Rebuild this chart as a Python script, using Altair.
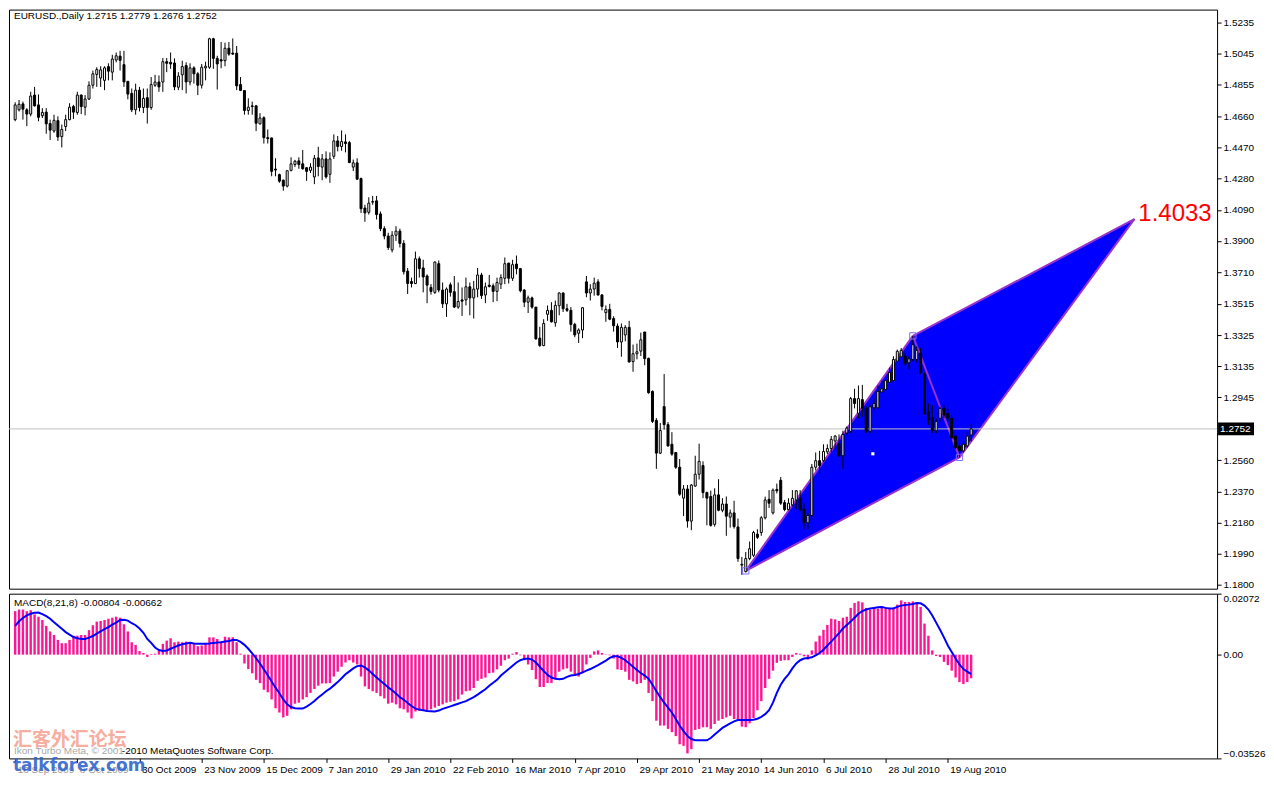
import altair as alt
import pandas as pd

# ---------------- data ----------------
symbol_title = "EURUSD.,Daily"

opens = [
 1.4641,1.4701,1.4737,1.4701,1.4675,1.4791,1.4731,1.4665,1.4687,1.4617,
 1.4571,1.4635,1.4537,1.4599,1.4641,1.4721,1.4685,1.4791,1.4717,1.4767,
 1.4851,1.4917,1.4895,1.4881,1.4965,1.4931,1.5005,1.5029,1.4977,1.4875,
 1.4801,1.4701,1.4821,1.4715,1.4775,1.4715,1.4851,1.4871,1.4871,1.4995,
 1.4991,1.4987,1.4839,1.4915,1.4971,1.4871,1.4957,1.4921,1.4851,1.4957,
 1.4961,1.5135,1.5015,1.5007,1.5001,1.5077,1.5047,1.5047,1.4855,1.4819,
 1.4697,1.4725,1.4725,1.4615,1.4653,1.4531,1.4529,1.4339,1.4305,1.4271,
 1.4235,1.4331,1.4367,1.4389,1.4371,1.4347,1.4331,1.4291,1.4407,1.4351,
 1.4401,1.4307,1.4417,1.4511,1.4477,1.4505,1.4501,1.4351,1.4377,1.4281,
 1.4101,1.4075,1.4137,1.4145,1.4065,1.3975,1.3930,1.3845,1.3935,1.3960,
 1.3885,1.3715,1.3652,1.3640,1.3791,1.3735,1.3686,1.3616,1.3586,1.3761,
 1.3600,1.3516,1.3632,1.3590,1.3496,1.3540,1.3540,1.3620,1.3552,1.3606,
 1.3692,1.3570,1.3630,1.3626,1.3592,1.3636,1.3672,1.3765,1.3672,1.3759,
 1.3731,1.3600,1.3526,1.3552,1.3496,1.3306,1.3261,1.3452,1.3476,1.3400,
 1.3504,1.3582,1.3486,1.3476,1.3390,1.3336,1.3356,1.3650,1.3582,1.3606,
 1.3650,1.3570,1.3462,1.3482,1.3426,1.3380,1.3283,1.3326,1.3372,1.3163,
 1.3211,1.3227,1.3344,1.3183,1.2981,1.2804,1.2604,1.2888,1.2778,1.2658,
 1.2608,1.2518,1.2329,1.2385,1.2189,1.2403,1.2475,1.2528,1.2363,1.2339,
 1.2169,1.2349,1.2255,1.2293,1.2213,1.2239,1.2153,1.1920,1.1880,1.1960,
 1.1980,1.2109,1.2119,1.2209,1.2322,1.2239,1.2382,1.2438,1.2302,1.2259,
 1.2288,1.2318,1.2328,1.2263,1.2179,1.2223,1.2518,1.2558,1.2558,1.2612,
 1.2632,1.2678,1.2662,1.2588,1.2727,1.2737,1.2937,1.2847,1.2931,1.2877,
 1.2737,1.2881,1.2881,1.2977,1.2993,1.3037,1.3047,1.3166,1.3192,1.3196,
 1.3156,1.3176,1.3176,1.3216,1.3087,1.2857,1.2821,1.2741,1.2817,1.2877,
 1.2847,1.2817,1.2708,1.2648,1.2618,1.2648,1.2715]

highs = [
 1.4747,1.4761,1.4751,1.4711,1.4811,1.4841,1.4795,1.4711,1.4711,1.4641,
 1.4671,1.4661,1.4611,1.4671,1.4741,1.4731,1.4811,1.4795,1.4791,1.4875,
 1.4941,1.4961,1.4967,1.4967,1.4985,1.5037,1.5051,1.5061,1.5061,1.4875,
 1.4831,1.4861,1.4841,1.4831,1.4831,1.4901,1.4915,1.4911,1.5017,1.5017,
 1.5051,1.5015,1.4931,1.5001,1.4991,1.4985,1.4967,1.4931,1.4981,1.4995,
 1.5141,1.5141,1.5031,1.5115,1.5111,1.5115,1.5137,1.5091,1.4901,1.4821,
 1.4771,1.4751,1.4731,1.4681,1.4661,1.4581,1.4531,1.4405,1.4311,1.4275,
 1.4331,1.4411,1.4395,1.4411,1.4455,1.4351,1.4375,1.4425,1.4475,1.4431,
 1.4447,1.4441,1.4551,1.4541,1.4575,1.4551,1.4511,1.4397,1.4405,1.4287,
 1.4121,1.4167,1.4175,1.4175,1.4080,1.3990,1.3950,1.3960,1.3990,1.3975,
 1.3905,1.3735,1.3676,1.3835,1.3805,1.3785,1.3696,1.3636,1.3775,1.3781,
 1.3646,1.3616,1.3646,1.3686,1.3646,1.3616,1.3676,1.3646,1.3656,1.3735,
 1.3705,1.3646,1.3692,1.3640,1.3676,1.3696,1.3799,1.3765,1.3785,1.3811,
 1.3735,1.3606,1.3566,1.3560,1.3496,1.3376,1.3422,1.3506,1.3526,1.3536,
 1.3586,1.3586,1.3516,1.3496,1.3400,1.3366,1.3496,1.3686,1.3636,1.3676,
 1.3666,1.3576,1.3506,1.3516,1.3440,1.3396,1.3396,1.3386,1.3412,1.3267,
 1.3273,1.3340,1.3344,1.3187,1.2987,1.2818,1.2788,1.3087,1.2794,1.2732,
 1.2608,1.2568,1.2409,1.2409,1.2415,1.2588,1.2662,1.2554,1.2369,1.2375,
 1.2389,1.2445,1.2329,1.2339,1.2259,1.2313,1.2205,1.1970,1.2000,1.2064,
 1.2129,1.2139,1.2219,1.2338,1.2378,1.2388,1.2418,1.2458,1.2318,1.2328,
 1.2378,1.2378,1.2378,1.2298,1.2239,1.2538,1.2608,1.2618,1.2658,1.2658,
 1.2708,1.2714,1.2718,1.2741,1.2767,1.2947,1.2997,1.3017,1.3021,1.2891,
 1.2897,1.2937,1.3017,1.3047,1.3057,1.3126,1.3196,1.3236,1.3246,1.3216,
 1.3196,1.3320,1.3256,1.3246,1.3097,1.2907,1.2897,1.2817,1.2887,1.2897,
 1.2877,1.2837,1.2718,1.2668,1.2678,1.2737,1.2779]

lows = [
 1.4631,1.4691,1.4641,1.4601,1.4661,1.4721,1.4631,1.4651,1.4555,1.4517,
 1.4561,1.4511,1.4471,1.4571,1.4637,1.4645,1.4671,1.4675,1.4667,1.4761,
 1.4831,1.4841,1.4841,1.4821,1.4881,1.4881,1.4991,1.4941,1.4841,1.4765,
 1.4687,1.4671,1.4691,1.4681,1.4617,1.4701,1.4841,1.4811,1.4811,1.4931,
 1.4951,1.4821,1.4821,1.4821,1.4801,1.4851,1.4861,1.4791,1.4831,1.4881,
 1.4951,1.4951,1.4825,1.4955,1.4967,1.5031,1.5037,1.4821,1.4815,1.4671,
 1.4671,1.4671,1.4571,1.4611,1.4495,1.4495,1.4295,1.4295,1.4255,1.4207,
 1.4227,1.4325,1.4351,1.4341,1.4335,1.4267,1.4315,1.4247,1.4295,1.4271,
 1.4281,1.4255,1.4401,1.4447,1.4451,1.4441,1.4375,1.4327,1.4275,1.4071,
 1.4017,1.4061,1.4121,1.4031,1.3960,1.3910,1.3845,1.3830,1.3900,1.3860,
 1.3695,1.3576,1.3616,1.3636,1.3676,1.3586,1.3520,1.3572,1.3576,1.3586,
 1.3490,1.3436,1.3560,1.3490,1.3486,1.3442,1.3506,1.3446,1.3426,1.3556,
 1.3546,1.3520,1.3616,1.3526,1.3532,1.3606,1.3636,1.3640,1.3656,1.3696,
 1.3586,1.3496,1.3460,1.3486,1.3296,1.3253,1.3257,1.3412,1.3402,1.3376,
 1.3446,1.3466,1.3466,1.3346,1.3312,1.3277,1.3306,1.3556,1.3536,1.3566,
 1.3566,1.3476,1.3406,1.3416,1.3346,1.3247,1.3193,1.3287,1.3157,1.3101,
 1.3177,1.3197,1.3141,1.2967,1.2788,1.2508,1.2598,1.2748,1.2644,1.2588,
 1.2508,1.2343,1.2219,1.2149,1.2133,1.2399,1.2443,1.2329,1.2163,1.2155,
 1.2155,1.2249,1.2243,1.2099,1.2149,1.2143,1.1940,1.1860,1.1876,1.1950,
 1.1970,1.2080,1.2099,1.2199,1.2269,1.2229,1.2358,1.2288,1.2249,1.2255,
 1.2279,1.2263,1.2249,1.2139,1.2139,1.2199,1.2498,1.2478,1.2548,1.2598,
 1.2608,1.2628,1.2582,1.2508,1.2718,1.2727,1.2877,1.2817,1.2827,1.2727,
 1.2727,1.2867,1.2877,1.2973,1.2987,1.3027,1.3037,1.3152,1.3186,1.3136,
 1.3116,1.3166,1.3156,1.3087,1.2837,1.2777,1.2727,1.2727,1.2797,1.2817,
 1.2797,1.2688,1.2628,1.2578,1.2608,1.2638,1.2676]

closes = [
 1.4731,1.4735,1.4705,1.4675,1.4785,1.4725,1.4655,1.4685,1.4615,1.4577,
 1.4637,1.4535,1.4581,1.4641,1.4717,1.4687,1.4791,1.4721,1.4767,1.4851,
 1.4921,1.4947,1.4945,1.4957,1.4937,1.5011,1.5031,1.5003,1.4871,1.4797,
 1.4701,1.4821,1.4715,1.4771,1.4715,1.4855,1.4871,1.4841,1.4995,1.4985,
 1.4981,1.4841,1.4907,1.4965,1.4871,1.4957,1.4921,1.4851,1.4961,1.4967,
 1.5135,1.5015,1.4981,1.4999,1.5077,1.5041,1.5041,1.4847,1.4819,1.4697,
 1.4717,1.4721,1.4619,1.4651,1.4531,1.4525,1.4325,1.4333,1.4265,1.4235,
 1.4329,1.4371,1.4387,1.4367,1.4341,1.4325,1.4351,1.4405,1.4355,1.4401,
 1.4291,1.4401,1.4511,1.4477,1.4507,1.4495,1.4379,1.4377,1.4277,1.4097,
 1.4071,1.4131,1.4141,1.4061,1.3975,1.3930,1.3860,1.3935,1.3960,1.3885,
 1.3712,1.3640,1.3640,1.3791,1.3731,1.3680,1.3630,1.3592,1.3771,1.3600,
 1.3516,1.3606,1.3586,1.3496,1.3530,1.3532,1.3620,1.3552,1.3606,1.3692,
 1.3566,1.3620,1.3622,1.3592,1.3646,1.3676,1.3761,1.3672,1.3755,1.3731,
 1.3596,1.3526,1.3552,1.3496,1.3302,1.3261,1.3396,1.3476,1.3406,1.3506,
 1.3582,1.3486,1.3476,1.3390,1.3326,1.3356,1.3492,1.3582,1.3606,1.3642,
 1.3570,1.3500,1.3482,1.3422,1.3382,1.3283,1.3372,1.3372,1.3161,1.3211,
 1.3223,1.3296,1.3181,1.2973,1.2798,1.2604,1.2742,1.2778,1.2648,1.2598,
 1.2518,1.2353,1.2385,1.2189,1.2409,1.2475,1.2554,1.2363,1.2329,1.2163,
 1.2349,1.2255,1.2293,1.2219,1.2239,1.2155,1.1960,1.1925,1.1960,1.2020,
 1.2119,1.2090,1.2209,1.2318,1.2298,1.2378,1.2374,1.2298,1.2259,1.2298,
 1.2328,1.2374,1.2259,1.2179,1.2223,1.2518,1.2558,1.2528,1.2614,1.2632,
 1.2688,1.2708,1.2588,1.2718,1.2757,1.2937,1.2907,1.2937,1.2877,1.2737,
 1.2887,1.2907,1.2981,1.2997,1.3047,1.3097,1.3176,1.3226,1.3232,1.3152,
 1.3180,1.3266,1.3232,1.3097,1.2847,1.2807,1.2741,1.2797,1.2877,1.2837,
 1.2817,1.2698,1.2638,1.2618,1.2658,1.2708,1.2752]

macd_hist = [
 0.01478,0.01533,0.01533,0.01478,0.01511,0.01367,0.01289,0.01178,0.00978,0.00789,
 0.00667,0.00500,0.00389,0.00389,0.00500,0.00644,0.00644,0.00667,0.00667,0.00833,
 0.01000,0.01122,0.01144,0.01178,0.01222,0.01256,0.01289,0.01256,0.01033,0.00789,
 0.00422,0.00333,0.00122,0.00056,-0.00078,0.00022,0.00033,0.00144,0.00367,0.00478,
 0.00556,0.00422,0.00444,0.00422,0.00444,0.00422,0.00400,0.00289,0.00311,0.00367,
 0.00589,0.00589,0.00533,0.00444,0.00611,0.00589,0.00589,0.00422,0.00033,-0.00300,
 -0.00489,-0.00633,-0.00856,-0.00967,-0.01189,-0.01278,-0.01522,-0.01822,-0.01967,-0.02133,
 -0.02078,-0.01856,-0.01667,-0.01633,-0.01522,-0.01444,-0.01300,-0.01167,-0.01056,-0.00978,
 -0.00978,-0.00967,-0.00744,-0.00578,-0.00411,-0.00267,-0.00189,-0.00267,-0.00333,-0.00744,
 -0.01078,-0.01167,-0.01244,-0.01300,-0.01411,-0.01489,-0.01667,-0.01633,-0.01689,-0.01822,
 -0.01856,-0.01967,-0.02167,-0.01933,-0.01911,-0.01911,-0.01889,-0.01856,-0.01800,-0.01744,
 -0.01689,-0.01633,-0.01600,-0.01578,-0.01522,-0.01356,-0.01244,-0.01222,-0.01133,-0.00889,
 -0.00822,-0.00778,-0.00633,-0.00611,-0.00500,-0.00378,-0.00189,-0.00133,0.00033,0.00089,
 -0.00022,-0.00189,-0.00333,-0.00522,-0.00833,-0.01100,-0.01100,-0.00967,-0.00967,-0.00822,
 -0.00578,-0.00500,-0.00467,-0.00578,-0.00711,-0.00744,-0.00633,-0.00333,-0.00111,0.00111,
 0.00144,0.00056,0.00011,-0.00022,-0.00133,-0.00500,-0.00522,-0.00578,-0.00856,-0.00911,
 -0.01000,-0.00967,-0.00856,-0.01300,-0.01578,-0.02244,-0.02411,-0.02411,-0.02522,-0.02633,
 -0.02767,-0.03044,-0.03100,-0.03356,-0.03211,-0.02556,-0.02522,-0.02467,-0.02467,-0.02522,
 -0.02356,-0.02244,-0.02189,-0.02133,-0.02078,-0.02189,-0.02244,-0.02444,-0.02467,-0.02333,
 -0.02156,-0.01889,-0.01578,-0.01133,-0.00822,-0.00544,-0.00278,-0.00211,-0.00189,-0.00189,
 -0.00078,0.00056,0.00033,-0.00056,-0.00167,0.00144,0.00444,0.00644,0.00844,0.01011,
 0.01222,0.01200,0.01144,0.01256,0.01289,0.01589,0.01756,0.01811,0.01778,0.01589,
 0.01533,0.01589,0.01567,0.01644,0.01589,0.01589,0.01589,0.01700,0.01844,0.01789,
 0.01789,0.01811,0.01733,0.01622,0.01056,0.00644,0.00144,-0.00044,-0.00078,-0.00244,
 -0.00356,-0.00544,-0.00778,-0.00933,-0.01000,-0.00933,-0.00804]

macd_signal = [
 0.00978,0.01133,0.01244,0.01333,0.01389,0.01422,0.01433,0.01378,0.01311,0.01222,
 0.01100,0.00989,0.00878,0.00767,0.00678,0.00600,0.00556,0.00533,0.00533,0.00578,
 0.00633,0.00711,0.00789,0.00867,0.00933,0.01022,0.01089,0.01178,0.01189,0.01156,
 0.01067,0.01000,0.00889,0.00744,0.00533,0.00400,0.00244,0.00156,0.00122,0.00144,
 0.00200,0.00256,0.00311,0.00356,0.00378,0.00400,0.00378,0.00367,0.00367,0.00367,
 0.00378,0.00400,0.00411,0.00422,0.00444,0.00467,0.00500,0.00500,0.00433,0.00333,
 0.00200,0.00044,-0.00122,-0.00300,-0.00500,-0.00700,-0.00911,-0.01122,-0.01311,-0.01522,
 -0.01689,-0.01778,-0.01822,-0.01833,-0.01833,-0.01767,-0.01678,-0.01578,-0.01456,-0.01356,
 -0.01244,-0.01156,-0.01044,-0.00933,-0.00800,-0.00667,-0.00567,-0.00467,-0.00389,-0.00367,
 -0.00433,-0.00533,-0.00656,-0.00778,-0.00889,-0.01000,-0.01111,-0.01211,-0.01322,-0.01444,
 -0.01533,-0.01644,-0.01744,-0.01833,-0.01867,-0.01889,-0.01911,-0.01922,-0.01933,-0.01900,
 -0.01844,-0.01800,-0.01756,-0.01711,-0.01667,-0.01622,-0.01578,-0.01511,-0.01444,-0.01356,
 -0.01267,-0.01178,-0.01056,-0.00956,-0.00856,-0.00711,-0.00600,-0.00489,-0.00378,-0.00267,
 -0.00189,-0.00144,-0.00133,-0.00167,-0.00267,-0.00411,-0.00556,-0.00689,-0.00778,-0.00822,
 -0.00833,-0.00822,-0.00756,-0.00711,-0.00689,-0.00656,-0.00600,-0.00544,-0.00489,-0.00422,
 -0.00356,-0.00278,-0.00200,-0.00111,-0.00056,-0.00056,-0.00111,-0.00189,-0.00300,-0.00411,
 -0.00522,-0.00622,-0.00711,-0.00822,-0.01022,-0.01244,-0.01444,-0.01633,-0.01800,-0.01967,
 -0.02189,-0.02411,-0.02600,-0.02767,-0.02867,-0.02911,-0.02911,-0.02911,-0.02911,-0.02833,
 -0.02711,-0.02600,-0.02489,-0.02411,-0.02333,-0.02267,-0.02222,-0.02222,-0.02222,-0.02222,
 -0.02211,-0.02178,-0.02111,-0.02022,-0.01889,-0.01633,-0.01300,-0.01022,-0.00822,-0.00667,
 -0.00467,-0.00300,-0.00189,-0.00133,-0.00111,-0.00089,-0.00022,0.00056,0.00167,0.00311,
 0.00444,0.00589,0.00733,0.00889,0.01011,0.01122,0.01256,0.01389,0.01478,0.01533,
 0.01567,0.01589,0.01611,0.01622,0.01589,0.01567,0.01567,0.01622,0.01667,0.01689,
 0.01700,0.01722,0.01756,0.01744,0.01667,0.01533,0.01333,0.01089,0.00844,0.00589,
 0.00311,0.00089,-0.00133,-0.00333,-0.00489,-0.00578,-0.00662]

date_labels = ["16 Sep 2009", "8 Oct 2009", "30 Oct 2009", "23 Nov 2009",
               "15 Dec 2009", "7 Jan 2010", "29 Jan 2010", "22 Feb 2010",
               "16 Mar 2010", "7 Apr 2010", "29 Apr 2010", "21 May 2010",
               "14 Jun 2010", "6 Jul 2010", "28 Jul 2010", "19 Aug 2010"]
date_ticks = [0, 16, 32, 48, 64, 80, 96, 112, 128, 144, 160, 176, 192, 208, 224, 240]

price_ticks = [1.5235, 1.5045, 1.4855, 1.4660, 1.4470, 1.4280, 1.4090, 1.3900,
               1.3710, 1.3515, 1.3325, 1.3135, 1.2945, 1.2560, 1.2370, 1.2180,
               1.1990, 1.1800]
price_domain = [1.1776, 1.5313]
macd_axis_values = [0.02072, 0.0, -0.03526]

# pattern points X, A, C, B (bar index, price)
pattern_names = ["X", "A", "C", "B"]
pattern_bars = [188, 231, 288, 243]
pattern_prices = [1.1885, 1.3320, 1.4033, 1.2578]
pattern_centre_bar = [220.7]
pattern_centre_price = [1.2600]

copyright_gray = "Ikon Turbo Meta, \u00a9 2001"
copyright_black = "-2010 MetaQuotes Software Corp."
watermark_cn = "汇客外汇论坛"
watermark_en = "talkforex.com"

# ---------------- tables ----------------
n = len(closes)
bars = list(range(n))
candles = pd.DataFrame({"bar": bars, "open": opens, "high": highs,
                        "low": lows, "close": closes})
candles["body"] = ["white" if c >= o else "black" for o, c in zip(opens, closes)]
macd = pd.DataFrame({"bar": bars, "hist": macd_hist, "signal": macd_signal})

order_idx = [0, 1, 2, 3, 0]
poly = pd.DataFrame({"seq": list(range(len(order_idx))),
                     "bar": [pattern_bars[k] for k in order_idx],
                     "price": [pattern_prices[k] for k in order_idx]})
seg_pairs = [(0, 1), (1, 3), (3, 0), (1, 2), (2, 3)]
segs = pd.DataFrame({"bar": [pattern_bars[a] for a, b in seg_pairs],
                     "price": [pattern_prices[a] for a, b in seg_pairs],
                     "bar2": [pattern_bars[b] for a, b in seg_pairs],
                     "price2": [pattern_prices[b] for a, b in seg_pairs]})
corner = pd.DataFrame({"bar": [pattern_bars[0], pattern_bars[1], pattern_bars[3]],
                       "price": [pattern_prices[0], pattern_prices[1], pattern_prices[3]]})
centre = pd.DataFrame({"bar": pattern_centre_bar, "price": pattern_centre_price})
target = pd.DataFrame({"bar": [pattern_bars[2]], "price": [pattern_prices[2]],
                       "label": [f"{pattern_prices[2]:.4f}"]})
last = pd.DataFrame({"price": [closes[-1]], "label": [f"{closes[-1]:.4f}"]})
title_df = pd.DataFrame({"t": [f"{symbol_title}  {opens[-1]:.4f} {highs[-1]:.4f} "
                               f"{lows[-1]:.4f} {closes[-1]:.4f}"]})
macd_title_df = pd.DataFrame({"t": [f"MACD(8,21,8) {macd_hist[-1]:.5f} {macd_signal[-1]:.5f}"]})

# ---------------- layout ----------------
W, H1, H2 = 1210, 580, 165
FONT = "Liberation Sans"
xs = alt.Scale(domain=[-0.3, 308], nice=False, zero=False)
ys = alt.Scale(domain=price_domain, nice=False, zero=False)
ms = alt.Scale(domain=[min(macd_axis_values), max(macd_axis_values)], nice=False, zero=False)

price_axis = alt.Axis(orient="right", values=price_ticks, format=".4f", title=None,
                      grid=False, domain=False, tickSize=4, tickColor="black",
                      labelPadding=2, labelFontSize=10, labelFont=FONT,
                      labelColor="black", labelOverlap=False)
macd_axis = alt.Axis(orient="right", values=macd_axis_values, title=None,
                     labelExpr="datum.value == 0 ? '0.00' : format(datum.value, '.5f')",
                     labelFlush=True, grid=False, domain=False, tickSize=4,
                     tickColor="black", labelPadding=2, labelFontSize=10,
                     labelFont=FONT, labelColor="black", labelOverlap=False)
label_expr = ("[" + ",".join("'%s'" % s for s in date_labels) + "][indexof(["
              + ",".join(str(t) for t in date_ticks) + "], datum.value)]")
# the first two date labels sit under the forum watermark and look faded
faded_limit = date_ticks[2]
date_axis = alt.Axis(orient="bottom", values=date_ticks, labelExpr=label_expr,
                     title=None, grid=False, domain=False, tickSize=4,
                     tickColor="black", labelAlign="left", labelBaseline="top",
                     labelPadding=2, labelOffset=2, labelFlush=False,
                     labelOverlap=False, labelFontSize=10, labelFont=FONT,
                     labelColor={"condition": {"test": f"datum.value < {faded_limit}",
                                               "value": "#9a9a9a"},
                                 "value": "black"})


def px(field="bar"):
    return alt.X(f"{field}:Q", scale=xs, axis=None)


def py(field="price"):
    return alt.Y(f"{field}:Q", scale=ys, axis=price_axis)


poly_layer = alt.Chart(poly).mark_line(
    fill="#0000ff", stroke="#0000ff", strokeWidth=1, fillOpacity=1
).encode(x=px(), y=py(), order="seq:Q")

seg_layer = alt.Chart(segs).mark_rule(color="#9933cc", strokeWidth=2).encode(
    x=px(), y=py(), x2="bar2:Q", y2="price2:Q")

last_line = alt.Chart(last).mark_rule(color="#c0c0c0", strokeWidth=1).encode(y=py())

wicks = alt.Chart(candles).mark_rule(color="black", strokeWidth=1).encode(
    x=px(), y=py("low"), y2="high:Q")

bodies = alt.Chart(candles).mark_bar(width=2, stroke="black", strokeWidth=1).encode(
    x=px(), y=py("open"), y2="close:Q", fill=alt.Fill("body:N", scale=None))

corner_layer = alt.Chart(corner).mark_point(
    shape="square", size=40, filled=False, stroke="#7a6cff", strokeWidth=1, opacity=1
).encode(x=px(), y=py())

centre_layer = alt.Chart(centre).mark_point(
    shape="square", size=10, filled=True, color="white", opacity=1
).encode(x=px(), y=py())

target_text = alt.Chart(target).mark_text(
    color="#ff0000", fontSize=24, font=FONT, align="left", baseline="middle", dx=4, dy=-5
).encode(x=px(), y=py(), text="label:N")

title_text = alt.Chart(title_df).mark_text(
    align="left", baseline="middle", fontSize=10, font=FONT, color="black"
).encode(x=alt.value(5), y=alt.value(6), text="t:N")

tag_box = alt.Chart(last).mark_point(
    shape="M-1,-0.36L1,-0.36L1,0.36L-1,0.36Z", size=1296, filled=True,
    color="black", opacity=1
).encode(x=alt.value(W + 19), y=py())

tag_text = alt.Chart(last).mark_text(
    align="left", baseline="middle", fontSize=10, font=FONT, color="white"
).encode(x=alt.value(W + 3), y=py(), text="label:N")

price_chart = alt.layer(
    poly_layer, seg_layer, last_line, wicks, bodies, corner_layer, centre_layer,
    target_text, title_text, tag_box, tag_text
).properties(width=W, height=H1)

mx = alt.X("bar:Q", scale=xs, axis=date_axis)
hist_layer = alt.Chart(macd).mark_bar(color="#ff1493", width=2.4).encode(
    x=mx, y=alt.Y("hist:Q", scale=ms, axis=macd_axis), y2=alt.datum(0))
signal_layer = alt.Chart(macd).mark_line(color="#0000ff", strokeWidth=2).encode(
    x=mx, y=alt.Y("signal:Q", scale=ms, axis=macd_axis))
macd_title = alt.Chart(macd_title_df).mark_text(
    align="left", baseline="middle", fontSize=10, font=FONT, color="black"
).encode(x=alt.value(5), y=alt.value(9), text="t:N")

wm1 = alt.Chart(pd.DataFrame({"t": [copyright_gray]})).mark_text(
    align="left", baseline="middle", fontSize=10, font=FONT, color="#a8a8a8"
).encode(x=alt.value(5), y=alt.value(H2 - 7), text="t:N")
wm2 = alt.Chart(pd.DataFrame({"t": [copyright_black]})).mark_text(
    align="left", baseline="middle", fontSize=10, font=FONT, color="black"
).encode(x=alt.value(113), y=alt.value(H2 - 7), text="t:N")
wm3 = alt.Chart(pd.DataFrame({"t": [watermark_cn]})).mark_text(
    align="left", baseline="middle", fontSize=19, font="Noto Sans CJK SC",
    fontWeight="bold", color="#f4a090", opacity=0.85
).encode(x=alt.value(4), y=alt.value(H2 - 18), text="t:N")
wm4 = alt.Chart(pd.DataFrame({"t": [watermark_en]})).mark_text(
    align="left", baseline="middle", fontSize=17, font="DejaVu Sans",
    fontWeight="bold", color="#3366cc", opacity=0.9
).encode(x=alt.value(4), y=alt.value(H2 + 8), text="t:N")

macd_chart = alt.layer(
    hist_layer, signal_layer, macd_title, wm1, wm2, wm3, wm4
).properties(width=W, height=H2)

chart = alt.vconcat(
    price_chart, macd_chart, spacing=2, padding=0, background="white"
).configure_view(stroke="black", strokeWidth=1)

chart.save("out.html", embed_options={"renderer": "svg", "actions": False})
